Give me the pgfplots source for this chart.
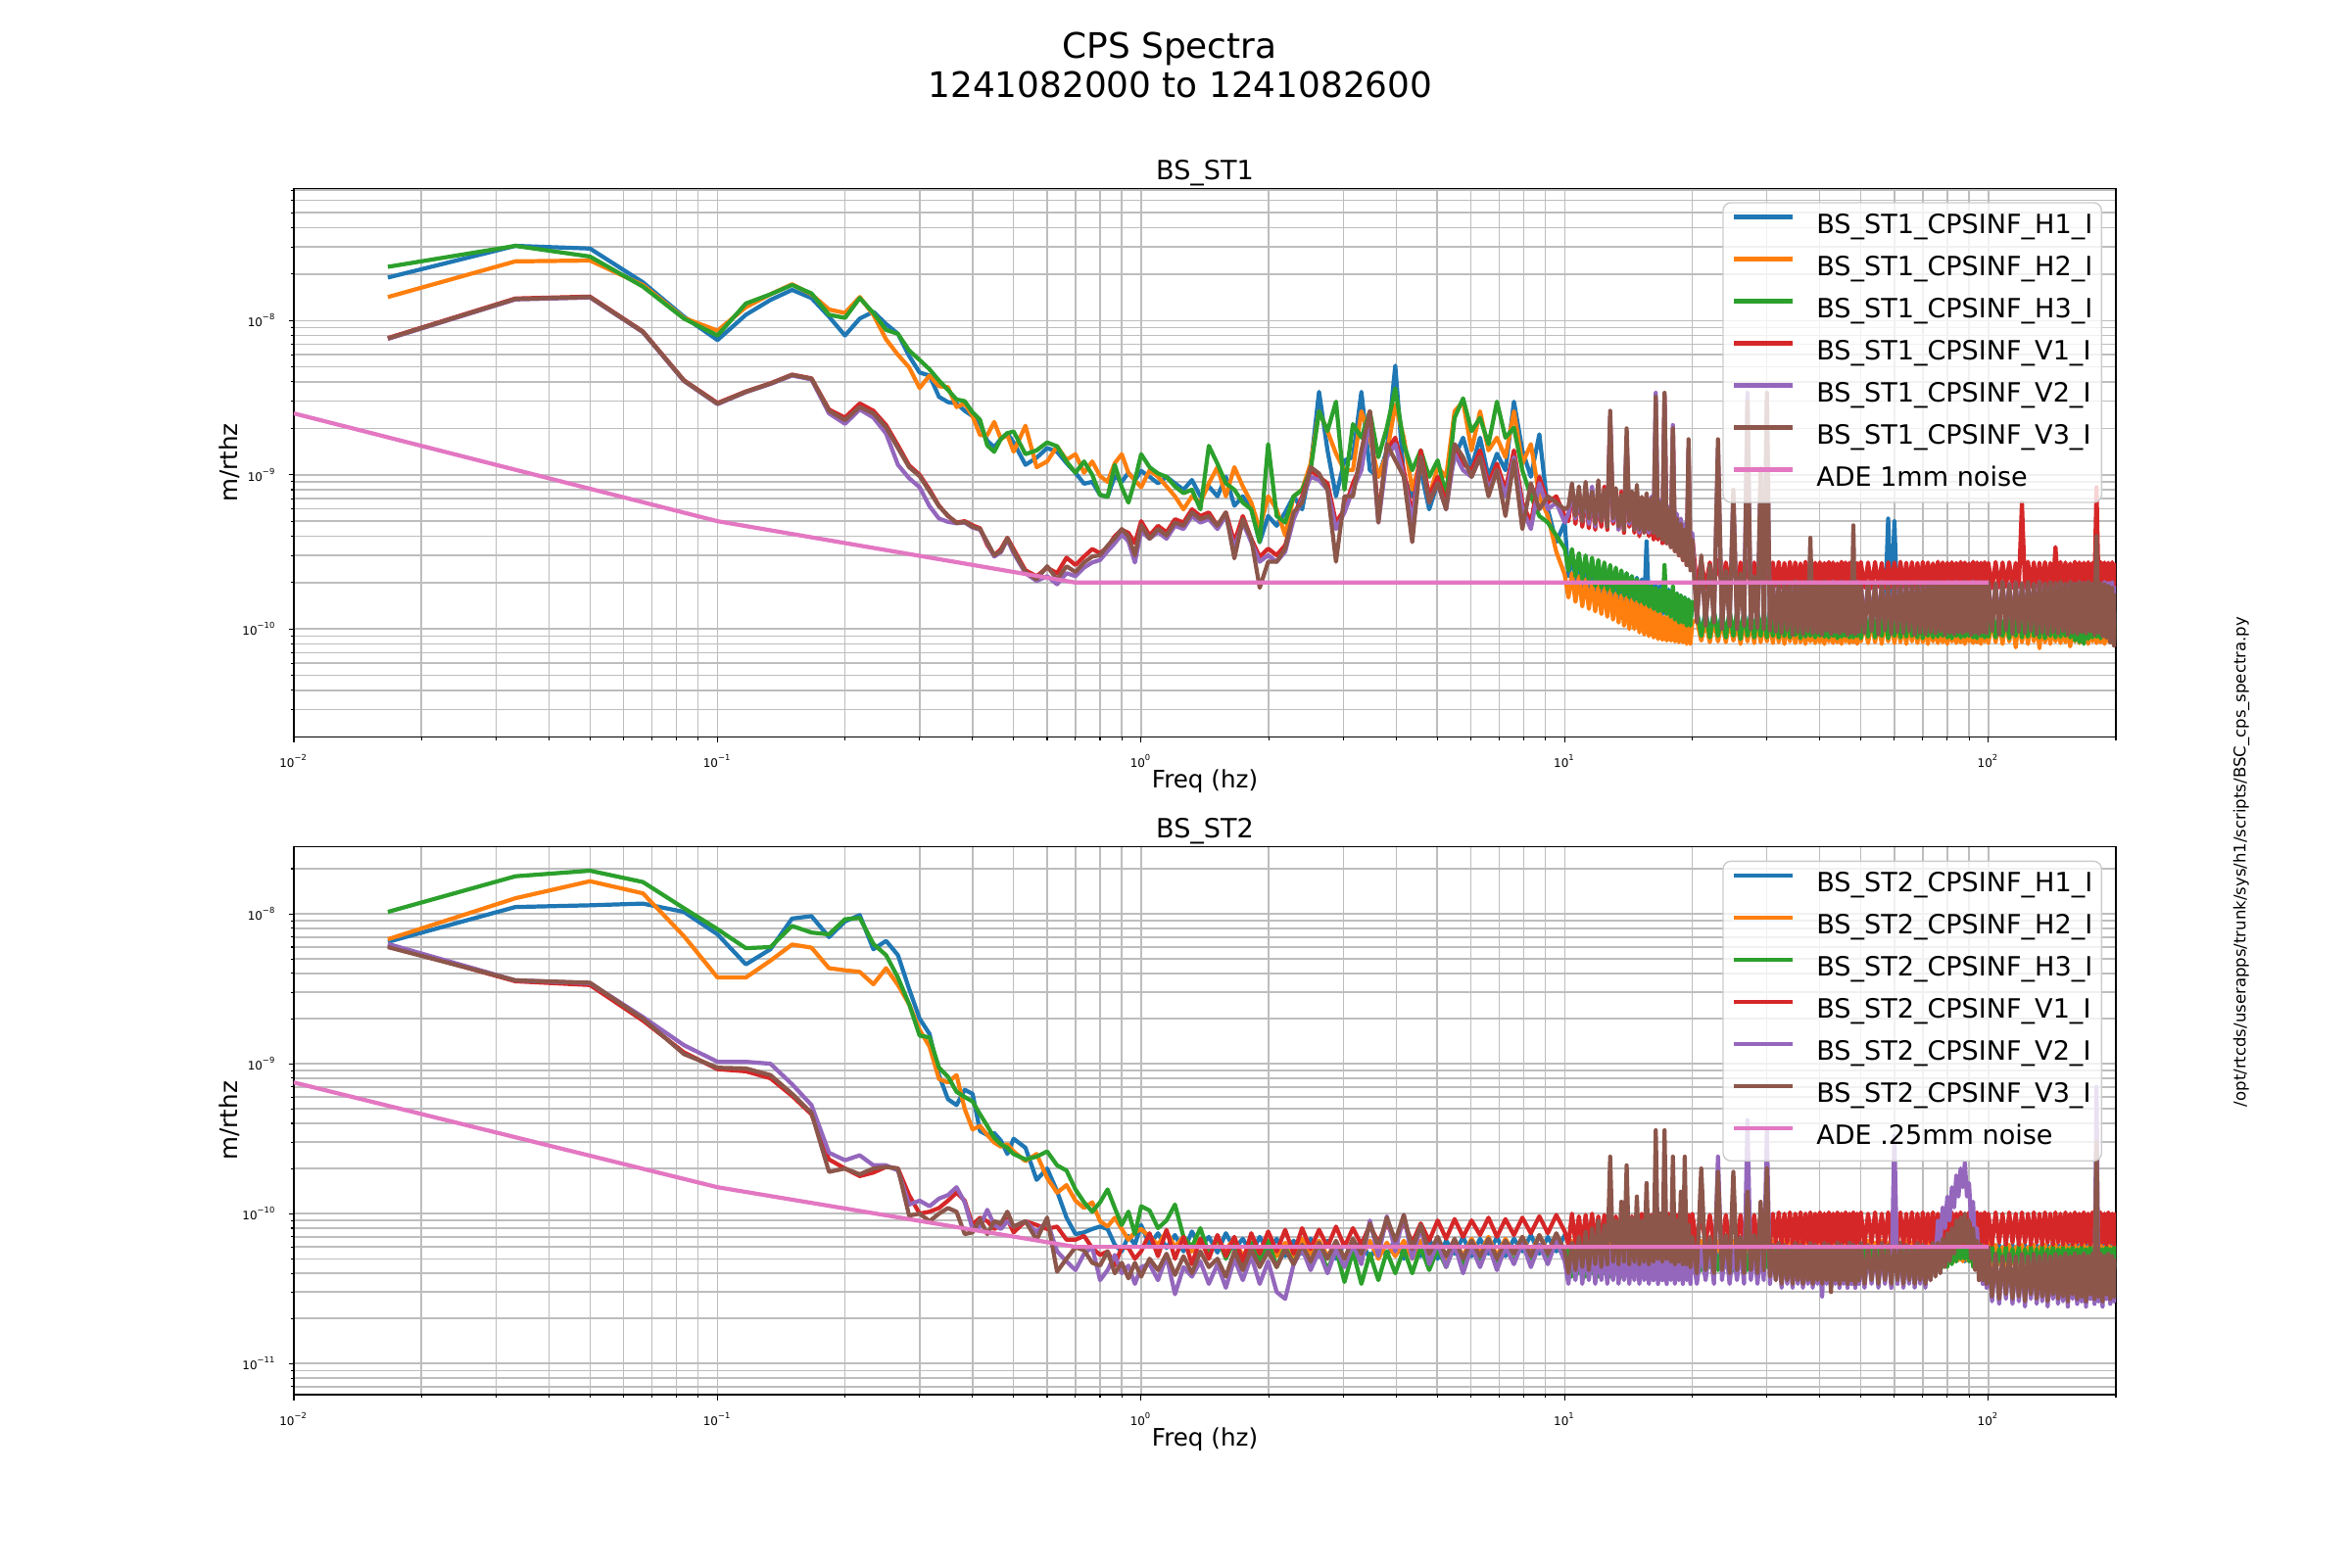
\documentclass[border=0pt]{standalone}
\usepackage{fontspec}
\setmainfont{DejaVu Sans}
\usepackage{pgfplots}
\usepackage{pgfplotstable}
\pgfplotsset{compat=1.18}
\definecolor{c0}{HTML}{1F77B4}
\definecolor{c1}{HTML}{FF7F0E}
\definecolor{c2}{HTML}{2CA02C}
\definecolor{c3}{HTML}{D62728}
\definecolor{c4}{HTML}{9467BD}
\definecolor{c5}{HTML}{8C564B}
\definecolor{c6}{HTML}{E377C2}

% ST1: f H1 H2 H3 V1 V2 V3
\pgfplotstableread{
f a b c d e g
0.01667 1.9e-8 1.42e-8 2.23e-8 7.7e-9 7.6e-9 7.65e-9
0.03333 3.05e-8 2.42e-8 3.05e-8 1.39e-8 1.37e-8 1.38e-8
0.05 2.93e-8 2.45e-8 2.6e-8 1.43e-8 1.41e-8 1.42e-8
0.06667 1.77e-8 1.7e-8 1.66e-8 8.5e-9 8.4e-9 8.45e-9
0.08333 1.06e-8 1.04e-8 1.03e-8 4.1e-9 4.05e-9 4.08e-9
0.1 7.47e-9 8.6e-9 8.0e-9 2.92e-9 2.87e-9 2.89e-9
0.11667 1.09e-8 1.22e-8 1.29e-8 3.47e-9 3.43e-9 3.45e-9
0.13333 1.36e-8 1.48e-8 1.48e-8 3.92e-9 3.88e-9 3.9e-9
0.15 1.58e-8 1.72e-8 1.7e-8 4.46e-9 4.4e-9 4.44e-9
0.16667 1.4e-8 1.48e-8 1.5e-8 4.22e-9 4.15e-9 4.2e-9
0.18333 1.06e-8 1.18e-8 1.09e-8 2.65e-9 2.5e-9 2.6e-9
0.2 8.0e-9 1.12e-8 1.04e-8 2.35e-9 2.14e-9 2.26e-9
0.21667 1.03e-8 1.42e-8 1.4e-8 2.9e-9 2.65e-9 2.75e-9
0.23333 1.14e-8 1.09e-8 1.12e-8 2.6e-9 2.35e-9 2.5e-9
0.25 9.5e-9 7.55e-9 8.7e-9 2.1e-9 1.85e-9 2.03e-9
0.26667 8.2e-9 6.0e-9 8.2e-9 1.55e-9 1.16e-9 1.49e-9
0.28333 5.9e-9 4.97e-9 6.4e-9 1.15e-9 9.5e-10 1.12e-9
0.3 4.6e-9 3.65e-9 5.55e-9 1.0e-9 8.3e-10 9.8e-10
0.31667 4.4e-9 4.4e-9 4.83e-9 8.0e-10 6.25e-10 7.8e-10
0.33333 3.2e-9 3.75e-9 4.08e-9 6.3e-10 5.2e-10 6.25e-10
0.35 2.96e-9 3.7e-9 3.55e-9 5.4e-10 4.95e-10 5.43e-10
0.36667 2.9e-9 2.75e-9 3.08e-9 4.9e-10 4.85e-10 4.86e-10
0.38333 2.6e-9 2.9e-9 3.0e-9 5.0e-10 4.9e-10 4.95e-10
0.4 2.4e-9 2.4e-9 2.54e-9 4.7e-10 4.55e-10 4.6e-10
0.41667 2.14e-9 1.81e-9 2.27e-9 4.5e-10 4.4e-10 4.45e-10
0.43333 1.66e-9 1.81e-9 1.55e-9 3.5e-10 3.6e-10 3.66e-10
0.45 1.51e-9 2.2e-9 1.41e-9 3.0e-10 2.95e-10 3.01e-10
0.46667 1.71e-9 1.71e-9 1.71e-9 3.3e-10 3.15e-10 3.2e-10
0.48333 1.86e-9 1.81e-9 1.86e-9 3.9e-10 3.8e-10 3.88e-10
0.5 1.62e-9 1.41e-9 1.91e-9 3.3e-10 3.1e-10 3.2e-10
0.53333 1.16e-9 2.08e-9 1.36e-9 2.4e-10 2.3e-10 2.34e-10
0.56667 1.29e-9 1.12e-9 1.44e-9 2.2e-10 2.05e-10 2.1e-10
0.6 1.49e-9 1.22e-9 1.62e-9 2.5e-10 2.2e-10 2.55e-10
0.63333 1.41e-9 1.53e-9 1.53e-9 2.3e-10 1.95e-10 2.1e-10
0.66667 1.19e-9 1.25e-9 1.22e-9 2.9e-10 2.3e-10 2.55e-10
0.7 1.03e-9 1.36e-9 1.03e-9 2.6e-10 2.2e-10 2.34e-10
0.73333 8.75e-10 1.03e-9 1.22e-9 2.95e-10 2.5e-10 2.7e-10
0.76667 9.0e-10 1.22e-9 1.0e-9 3.3e-10 2.7e-10 2.95e-10
0.8 7.4e-10 9.8e-10 7.4e-10 3.1e-10 2.8e-10 3.01e-10
0.83333 7.2e-10 9.0e-10 7.2e-10 3.4e-10 3.2e-10 3.47e-10
0.86667 9.8e-10 1.19e-9 1.16e-9 4.0e-10 3.6e-10 3.88e-10
0.9 9.0e-10 1.36e-9 8.3e-10 4.4e-10 4.1e-10 4.45e-10
0.93333 1.03e-9 1.03e-9 6.6e-10 4.2e-10 3.7e-10 3.98e-10
0.96667 9.2e-10 9.2e-10 9.2e-10 3.6e-10 2.7e-10 3.0e-10
1.0 1.06e-9 8.3e-10 1.36e-9 5.0e-10 4.3e-10 4.72e-10
1.047 9.7e-10 1.07e-9 1.12e-9 4.04e-10 3.85e-10 3.85e-10
1.096 8.8e-10 9.7e-10 1.02e-9 4.67e-10 4.24e-10 4.45e-10
1.148 9.7e-10 8.4e-10 9.7e-10 4.24e-10 3.85e-10 4.04e-10
1.202 8.8e-10 7.25e-10 8.4e-10 5.15e-10 4.67e-10 4.9e-10
1.259 8.0e-10 5.97e-10 7.6e-10 4.9e-10 4.45e-10 4.67e-10
1.318 9.25e-10 7.25e-10 8.0e-10 5.97e-10 5.4e-10 5.7e-10
1.380 7.25e-10 6.6e-10 5.97e-10 5.4e-10 4.9e-10 5.15e-10
1.445 8.4e-10 8.8e-10 1.54e-9 5.7e-10 5.15e-10 5.4e-10
1.514 7.25e-10 1.12e-9 1.18e-9 4.67e-10 4.45e-10 4.67e-10
1.585 9.7e-10 7.25e-10 8.8e-10 5.7e-10 5.4e-10 5.7e-10
1.660 6.3e-10 1.12e-9 8.0e-10 3.66e-10 3.32e-10 2.87e-10
1.738 7.25e-10 8.4e-10 6.6e-10 5.4e-10 4.9e-10 5.15e-10
1.820 5.97e-10 6.6e-10 5.97e-10 3.85e-10 3.66e-10 3.85e-10
1.905 3.66e-10 4.45e-10 3.66e-10 2.94e-10 2.73e-10 1.85e-10
1.995 5.4e-10 7.25e-10 1.58e-9 3.32e-10 3.01e-10 2.73e-10
2.089 4.67e-10 5.97e-10 5.4e-10 3.01e-10 2.73e-10 2.73e-10
2.188 5.7e-10 4.04e-10 4.9e-10 3.49e-10 3.17e-10 3.32e-10
2.291 7.25e-10 7.25e-10 7.25e-10 5.4e-10 5.15e-10 5.7e-10
2.399 5.97e-10 8.0e-10 8.0e-10 7.25e-10 6.9e-10 6.6e-10
2.512 1.12e-9 1.18e-9 1.07e-9 1.07e-9 9.7e-10 1.12e-9
2.630 3.45e-9 2.58e-9 2.58e-9 9.7e-10 9.25e-10 1.02e-9
2.754 1.44e-9 1.92e-9 1.92e-9 8.8e-10 8.0e-10 8.0e-10
2.884 7.25e-10 1.37e-9 2.98e-9 4.9e-10 4.45e-10 2.73e-10
3.020 1.24e-9 1.07e-9 8.0e-10 5.97e-10 5.7e-10 7.25e-10
3.162 1.3e-9 1.07e-9 2.13e-9 8.8e-10 8.0e-10 7.25e-10
3.311 3.45e-9 2.58e-9 1.74e-9 1.18e-9 1.07e-9 1.44e-9
3.467 1.07e-9 1.74e-9 2.58e-9 2.58e-9 2.34e-9 2.58e-9
3.631 9.7e-10 9.7e-10 1.3e-9 5.4e-10 4.9e-10 4.9e-10
3.802 1.44e-9 1.37e-9 2.02e-9 1.44e-9 1.3e-9 1.58e-9
3.981 5.1e-9 2.84e-9 3.62e-9 1.74e-9 1.58e-9 1.24e-9
4.169 9.7e-10 1.74e-9 1.58e-9 1.07e-9 9.7e-10 9.7e-10
4.365 7.25e-10 8.0e-10 1.07e-9 5.4e-10 4.9e-10 3.66e-10
4.571 1.07e-9 1.24e-9 1.44e-9 1.44e-9 1.3e-9 1.3e-9
4.786 5.97e-10 7.25e-10 9.7e-10 7.25e-10 6.6e-10 6.6e-10
5.012 8.8e-10 1.12e-9 1.24e-9 9.7e-10 8.8e-10 8.8e-10
5.248 7.25e-10 9.7e-10 7.25e-10 6.6e-10 5.97e-10 5.97e-10
5.495 1.3e-9 2.58e-9 2.34e-9 1.44e-9 1.37e-9 1.58e-9
5.754 1.74e-9 2.98e-9 3.13e-9 1.18e-9 1.07e-9 1.3e-9
6.026 1.12e-9 1.44e-9 1.92e-9 1.07e-9 9.7e-10 9.7e-10
6.310 1.74e-9 2.58e-9 2.34e-9 1.44e-9 1.3e-9 1.3e-9
6.607 9.7e-10 1.44e-9 1.58e-9 8.8e-10 8.0e-10 7.25e-10
6.918 1.37e-9 1.74e-9 2.98e-9 1.18e-9 1.07e-9 1.07e-9
7.244 1.07e-9 1.3e-9 1.74e-9 8.0e-10 7.25e-10 5.4e-10
7.586 2.98e-9 2.58e-9 2.02e-9 1.44e-9 1.3e-9 1.24e-9
7.943 1.44e-9 1.18e-9 1.07e-9 6.6e-10 5.97e-10 4.45e-10
8.318 9.7e-10 1.58e-9 7.25e-10 4.9e-10 4.45e-10 8.8e-10
8.710 1.83e-9 7.25e-10 5.4e-10 9.7e-10 8.8e-10 5.97e-10
9.120 5.97e-10 5.4e-10 4.9e-10 6.6e-10 5.97e-10 7.25e-10
9.550 3.66e-10 3.17e-10 4.04e-10 7.25e-10 6.6e-10 6.6e-10
10.0 4.9e-10 2.25e-10 3.32e-10 5.4e-10 4.9e-10 5.97e-10
10.2 2.2e-10 1.6e-10 2.4e-10 5.0e-10 5.6e-10 6.2e-10
10.4 3.1e-10 2.3e-10 3.3e-10 7.8e-10 8.2e-10 8.8e-10
10.6 2.0e-10 1.5e-10 2.2e-10 4.8e-10 5.2e-10 5.4e-10
10.8 3.0e-10 2.2e-10 3.1e-10 7.6e-10 7.2e-10 8.4e-10
11.0 1.9e-10 1.4e-10 2.1e-10 4.6e-10 5.0e-10 5.0e-10
11.2 2.9e-10 2.1e-10 3.0e-10 7.4e-10 8.0e-10 9.0e-10
11.4 1.8e-10 1.35e-10 2.0e-10 4.5e-10 4.8e-10 5.2e-10
11.6 2.8e-10 2.0e-10 2.9e-10 7.8e-10 8.4e-10 7.8e-10
11.8 1.75e-10 1.3e-10 1.9e-10 4.4e-10 4.6e-10 4.8e-10
12.0 2.7e-10 1.9e-10 2.8e-10 7.2e-10 7.6e-10 9.2e-10
12.2 1.7e-10 1.25e-10 1.85e-10 4.6e-10 5.0e-10 5.0e-10
12.4 2.6e-10 1.85e-10 2.7e-10 8.4e-10 7.8e-10 8.0e-10
12.6 1.65e-10 1.2e-10 1.8e-10 4.4e-10 4.6e-10 4.6e-10
12.8 2.5e-10 1.8e-10 2.6e-10 2.2e-9 2.4e-9 2.6e-9
13.0 1.6e-10 1.15e-10 1.75e-10 4.8e-10 5.0e-10 5.2e-10
13.2 2.4e-10 1.7e-10 2.5e-10 7.6e-10 8.0e-10 8.2e-10
13.4 1.55e-10 1.1e-10 1.7e-10 4.4e-10 4.4e-10 4.6e-10
13.6 2.35e-10 1.65e-10 2.4e-10 7.8e-10 7.0e-10 7.4e-10
13.8 1.5e-10 1.05e-10 1.65e-10 4.2e-10 4.6e-10 4.4e-10
14.0 2.3e-10 1.6e-10 2.3e-10 1.6e-9 1.8e-9 2.0e-9
14.2 1.5e-10 1.0e-10 1.6e-10 4.6e-10 4.8e-10 5.0e-10
14.4 2.2e-10 1.55e-10 2.2e-10 7.4e-10 7.2e-10 7.8e-10
14.6 1.45e-10 1.0e-10 1.55e-10 4.2e-10 4.4e-10 4.4e-10
14.8 2.15e-10 1.5e-10 2.1e-10 7.2e-10 7.6e-10 8.6e-10
15.0 1.4e-10 9.5e-11 1.5e-10 4.0e-10 4.2e-10 4.4e-10
15.2 2.1e-10 1.45e-10 2.0e-10 7.0e-10 7.0e-10 7.2e-10
15.4 1.4e-10 9.2e-11 1.45e-10 4.2e-10 4.4e-10 4.2e-10
15.6 3.7e-10 1.4e-10 1.95e-10 7.2e-10 6.8e-10 7.6e-10
15.8 1.35e-10 9.0e-11 1.4e-10 4.0e-10 4.2e-10 4.4e-10
16.0 2.0e-10 1.35e-10 1.9e-10 6.8e-10 7.2e-10 7.0e-10
16.2 1.3e-10 8.8e-11 1.35e-10 3.8e-10 4.4e-10 4.2e-10
16.4 1.95e-10 1.3e-10 1.85e-10 6.8e-10 3.4e-9 3.2e-9
16.6 1.3e-10 8.6e-11 1.3e-10 3.8e-10 4.2e-10 4.0e-10
16.8 1.9e-10 1.25e-10 1.8e-10 6.6e-10 6.8e-10 6.6e-10
17.0 1.25e-10 8.5e-11 1.3e-10 3.6e-10 4.0e-10 3.8e-10
17.2 1.85e-10 1.2e-10 2.6e-10 3.2e-9 3.3e-9 3.4e-9
17.4 1.25e-10 8.4e-11 1.25e-10 3.6e-10 3.8e-10 3.6e-10
17.6 1.8e-10 1.2e-10 1.75e-10 6.0e-10 6.2e-10 6.0e-10
17.8 1.2e-10 8.4e-11 1.2e-10 3.4e-10 3.6e-10 3.4e-10
18.0 1.75e-10 1.15e-10 1.9e-10 2.0e-9 2.1e-9 2.0e-9
18.2 1.2e-10 8.3e-11 1.15e-10 3.2e-10 3.4e-10 3.2e-10
18.4 1.7e-10 1.15e-10 1.7e-10 5.4e-10 5.6e-10 5.2e-10
18.6 1.15e-10 8.2e-11 1.1e-10 3.0e-10 3.2e-10 3.0e-10
18.8 1.65e-10 1.15e-10 1.65e-10 5.0e-10 5.2e-10 4.8e-10
19.0 1.15e-10 8.2e-11 1.1e-10 2.8e-10 3.0e-10 2.8e-10
19.2 1.6e-10 1.1e-10 1.6e-10 4.6e-10 4.8e-10 4.4e-10
19.4 1.1e-10 8.0e-11 1.05e-10 2.6e-10 2.8e-10 2.6e-10
19.6 1.55e-10 1.1e-10 1.55e-10 1.4e-9 1.5e-9 1.7e-9
19.8 1.1e-10 8.0e-11 1.05e-10 2.5e-10 2.6e-10 2.4e-10
20.0 1.5e-10 1.1e-10 1.5e-10 4.0e-10 4.2e-10 3.8e-10
20.5 1.3e-10 1.15e-10 1.3e-10 1.9e-10 1.2e-10 1.1e-10
21.0 9.2e-11 8.4e-11 9.0e-11 2.8e-10 2.6e-10 3.0e-10
21.5 1.32e-10 1.12e-10 1.28e-10 1.85e-10 1.15e-10 1.05e-10
22.0 9.0e-11 8.2e-11 8.8e-11 2.7e-10 2.4e-10 2.6e-10
22.5 1.3e-10 1.15e-10 1.3e-10 1.9e-10 1.2e-10 1.1e-10
23.0 9.2e-11 8.3e-11 9.0e-11 2.8e-10 1.5e-9 1.7e-9
23.5 1.28e-10 1.12e-10 1.26e-10 1.85e-10 1.1e-10 1.0e-10
24.0 8.8e-11 8.2e-11 8.8e-11 2.7e-10 2.3e-10 2.4e-10
24.5 1.3e-10 1.14e-10 1.3e-10 1.9e-10 1.15e-10 1.05e-10
25.0 9.0e-11 8.4e-11 9.0e-11 2.75e-10 7.5e-10 8.0e-10
25.5 1.26e-10 1.1e-10 1.28e-10 1.85e-10 1.1e-10 1.0e-10
26.0 8.8e-11 8.0e-11 8.6e-11 2.7e-10 2.2e-10 2.3e-10
26.5 1.3e-10 1.13e-10 1.3e-10 1.9e-10 1.15e-10 1.05e-10
27.0 9.0e-11 8.3e-11 9.0e-11 2.75e-10 3.4e-9 3.0e-9
27.5 1.28e-10 1.12e-10 1.26e-10 1.85e-10 1.1e-10 1.0e-10
28.0 8.8e-11 8.1e-11 8.8e-11 2.7e-10 2.1e-10 2.2e-10
28.5 1.3e-10 1.15e-10 1.28e-10 1.9e-10 1.12e-10 1.02e-10
29.0 9.0e-11 8.2e-11 9.0e-11 2.7e-10 1.0e-9 1.1e-9
29.5 1.26e-10 1.1e-10 1.3e-10 1.85e-10 1.1e-10 1.0e-10
30.0 8.8e-11 8.3e-11 8.8e-11 2.75e-10 3.0e-9 3.4e-9
30.5 1.3e-10 1.13e-10 1.26e-10 1.85e-10 1.08e-10 9.8e-11
31.0 9.0e-11 8.1e-11 9.0e-11 2.7e-10 2.0e-10 2.0e-10
31.5 1.28e-10 1.15e-10 1.3e-10 1.9e-10 1.1e-10 9.6e-11
32.0 8.8e-11 8.2e-11 8.8e-11 2.72e-10 1.95e-10 2.0e-10
32.5 1.3e-10 1.12e-10 1.28e-10 1.86e-10 1.06e-10 9.4e-11
33.0 9.0e-11 8.0e-11 9.0e-11 2.68e-10 2.0e-10 2.02e-10
33.5 1.27e-10 1.14e-10 1.3e-10 1.84e-10 1.1e-10 9.8e-11
34.0 8.7e-11 8.3e-11 8.8e-11 2.72e-10 1.96e-10 1.98e-10
34.5 1.31e-10 1.11e-10 1.27e-10 1.88e-10 1.07e-10 9.2e-11
35.0 8.9e-11 8.1e-11 9.1e-11 2.7e-10 2.02e-10 2.04e-10
35.5 1.28e-10 1.15e-10 1.29e-10 1.85e-10 1.09e-10 9.6e-11
36.0 8.8e-11 8.2e-11 8.7e-11 2.66e-10 1.97e-10 1.96e-10
36.5 1.3e-10 1.12e-10 1.3e-10 1.87e-10 1.05e-10 9.3e-11
37.0 9.0e-11 8.0e-11 8.9e-11 2.73e-10 2.0e-10 2.01e-10
37.5 1.26e-10 1.14e-10 1.26e-10 1.84e-10 1.1e-10 9.7e-11
38.0 8.8e-11 8.3e-11 9.0e-11 2.7e-10 1.98e-10 3.9e-10
38.5 1.3e-10 1.11e-10 1.28e-10 1.86e-10 1.06e-10 9.4e-11
39.0 8.9e-11 8.1e-11 8.8e-11 2.69e-10 2.01e-10 2.0e-10
39.5 1.28e-10 1.15e-10 1.3e-10 1.88e-10 1.08e-10 9.5e-11
40.0 8.7e-11 8.2e-11 9.0e-11 2.71e-10 1.96e-10 1.97e-10
40.5 1.31e-10 1.12e-10 1.27e-10 1.85e-10 1.07e-10 9.2e-11
41.0 9.0e-11 8.0e-11 8.9e-11 2.68e-10 2.0e-10 2.03e-10
41.5 1.27e-10 1.14e-10 1.29e-10 1.87e-10 1.1e-10 9.8e-11
42.0 8.8e-11 8.3e-11 8.8e-11 2.72e-10 1.97e-10 1.95e-10
42.5 1.3e-10 1.11e-10 1.3e-10 1.84e-10 1.05e-10 9.3e-11
43.0 8.9e-11 8.1e-11 9.0e-11 2.7e-10 2.02e-10 2.0e-10
43.5 1.28e-10 1.15e-10 1.26e-10 1.88e-10 1.09e-10 9.6e-11
44.0 8.7e-11 8.2e-11 8.7e-11 2.66e-10 1.98e-10 1.98e-10
44.5 1.3e-10 1.12e-10 1.28e-10 1.86e-10 1.06e-10 9.4e-11
45.0 9.0e-11 8.0e-11 8.9e-11 2.73e-10 2.01e-10 2.02e-10
45.5 1.27e-10 1.14e-10 1.3e-10 1.85e-10 1.08e-10 9.7e-11
46.0 8.8e-11 8.3e-11 9.0e-11 2.7e-10 1.96e-10 1.96e-10
46.5 1.31e-10 1.11e-10 1.27e-10 1.87e-10 1.07e-10 9.2e-11
47.0 8.9e-11 8.1e-11 8.8e-11 2.69e-10 2.0e-10 2.01e-10
47.5 1.28e-10 1.15e-10 1.29e-10 1.84e-10 1.1e-10 9.5e-11
48.0 8.7e-11 8.2e-11 8.8e-11 2.71e-10 1.97e-10 4.7e-10
48.5 1.3e-10 1.12e-10 1.3e-10 1.88e-10 1.05e-10 9.3e-11
49.0 9.0e-11 8.0e-11 9.0e-11 2.68e-10 2.02e-10 2.0e-10
49.5 1.26e-10 1.14e-10 1.26e-10 1.86e-10 1.09e-10 9.6e-11
50.0 8.8e-11 8.3e-11 8.7e-11 2.72e-10 1.98e-10 1.97e-10
51 1.3e-10 1.12e-10 1.28e-10 1.86e-10 1.07e-10 9.4e-11
52 8.9e-11 8.1e-11 8.9e-11 2.7e-10 2.0e-10 2.01e-10
53 1.28e-10 1.14e-10 1.3e-10 1.84e-10 1.09e-10 9.7e-11
54 8.7e-11 8.2e-11 8.8e-11 2.72e-10 1.96e-10 1.97e-10
55 1.31e-10 1.11e-10 1.27e-10 1.88e-10 1.06e-10 9.2e-11
56 9.0e-11 8.0e-11 9.0e-11 2.68e-10 2.02e-10 2.03e-10
57 1.27e-10 1.15e-10 1.29e-10 1.85e-10 1.1e-10 9.8e-11
58 5.2e-10 8.3e-11 8.7e-11 2.71e-10 1.97e-10 1.95e-10
59 1.3e-10 1.12e-10 1.3e-10 1.87e-10 1.05e-10 9.3e-11
60 5.0e-10 8.1e-11 9.0e-11 2.7e-10 2.01e-10 2.0e-10
61 1.28e-10 1.14e-10 1.26e-10 1.84e-10 1.08e-10 9.6e-11
62 8.8e-11 8.2e-11 8.8e-11 2.73e-10 1.98e-10 1.98e-10
63 1.3e-10 1.11e-10 1.28e-10 1.86e-10 1.07e-10 9.4e-11
64 8.9e-11 8.0e-11 8.9e-11 2.69e-10 2.0e-10 2.02e-10
65 1.27e-10 1.15e-10 1.3e-10 1.88e-10 1.09e-10 9.7e-11
66 8.7e-11 8.3e-11 9.0e-11 2.71e-10 1.96e-10 1.96e-10
67 1.31e-10 1.12e-10 1.27e-10 1.85e-10 1.06e-10 9.2e-11
68 9.0e-11 8.1e-11 8.8e-11 2.68e-10 2.02e-10 2.01e-10
69 1.28e-10 1.14e-10 1.29e-10 1.87e-10 1.1e-10 9.5e-11
70 8.8e-11 8.2e-11 8.7e-11 2.72e-10 1.97e-10 1.97e-10
71 1.3e-10 1.11e-10 1.3e-10 1.84e-10 1.05e-10 9.3e-11
72 8.9e-11 8.0e-11 9.0e-11 2.7e-10 2.01e-10 2.0e-10
73 1.26e-10 1.15e-10 1.26e-10 1.88e-10 1.08e-10 9.6e-11
74 8.7e-11 8.3e-11 8.8e-11 2.66e-10 1.98e-10 1.98e-10
75 1.3e-10 1.12e-10 1.28e-10 1.86e-10 1.07e-10 9.4e-11
76 9.0e-11 8.1e-11 8.9e-11 2.73e-10 2.0e-10 2.02e-10
77 1.28e-10 1.14e-10 1.3e-10 1.85e-10 1.09e-10 9.7e-11
78 8.8e-11 8.2e-11 9.0e-11 2.7e-10 1.96e-10 1.96e-10
79 1.31e-10 1.11e-10 1.27e-10 1.87e-10 1.06e-10 9.2e-11
80 8.9e-11 8.0e-11 8.8e-11 2.69e-10 2.02e-10 2.01e-10
81 1.27e-10 1.15e-10 1.29e-10 1.84e-10 1.1e-10 9.5e-11
82 8.7e-11 8.3e-11 8.7e-11 2.71e-10 1.97e-10 1.97e-10
83 1.3e-10 1.12e-10 1.3e-10 1.88e-10 1.05e-10 9.3e-11
84 9.0e-11 8.1e-11 9.0e-11 2.68e-10 2.01e-10 2.0e-10
85 1.28e-10 1.14e-10 1.26e-10 1.86e-10 1.08e-10 9.6e-11
86 8.8e-11 8.2e-11 8.8e-11 2.72e-10 1.98e-10 1.98e-10
87 1.3e-10 1.11e-10 1.28e-10 1.85e-10 1.07e-10 9.4e-11
88 8.9e-11 8.0e-11 8.9e-11 2.7e-10 2.0e-10 2.02e-10
89 1.26e-10 1.15e-10 1.3e-10 1.87e-10 1.09e-10 9.7e-11
90 8.7e-11 8.3e-11 9.0e-11 2.66e-10 1.96e-10 1.96e-10
91 1.3e-10 1.12e-10 1.27e-10 1.84e-10 1.06e-10 9.2e-11
92 9.0e-11 8.1e-11 8.8e-11 2.73e-10 2.02e-10 2.01e-10
93 1.28e-10 1.14e-10 1.29e-10 1.88e-10 1.1e-10 9.5e-11
94 8.8e-11 8.2e-11 8.7e-11 2.7e-10 1.97e-10 1.97e-10
95 1.31e-10 1.11e-10 1.3e-10 1.86e-10 1.05e-10 9.3e-11
96 8.9e-11 8.0e-11 9.0e-11 2.69e-10 2.01e-10 2.0e-10
97 1.27e-10 1.15e-10 1.26e-10 1.85e-10 1.08e-10 9.6e-11
98 8.7e-11 8.3e-11 8.8e-11 2.71e-10 1.98e-10 1.98e-10
99 1.3e-10 1.12e-10 1.28e-10 1.87e-10 1.07e-10 9.4e-11
100 9.0e-11 8.1e-11 8.9e-11 2.68e-10 2.0e-10 2.02e-10
102 1.28e-10 1.14e-10 1.3e-10 1.84e-10 1.09e-10 9.7e-11
104 8.8e-11 8.2e-11 8.8e-11 2.72e-10 1.96e-10 1.98e-10
106 1.3e-10 1.11e-10 1.27e-10 1.86e-10 1.06e-10 9.2e-11
108 8.9e-11 8.0e-11 9.0e-11 2.7e-10 2.02e-10 2.03e-10
110 1.27e-10 1.15e-10 1.29e-10 1.88e-10 1.1e-10 9.8e-11
112 8.7e-11 8.3e-11 8.7e-11 2.71e-10 1.97e-10 1.95e-10
114 1.31e-10 1.12e-10 1.3e-10 1.85e-10 1.05e-10 9.3e-11
116 9.0e-11 7.6e-11 9.0e-11 2.68e-10 2.01e-10 2.0e-10
118 1.28e-10 1.14e-10 1.26e-10 1.87e-10 1.08e-10 9.6e-11
120 8.8e-11 8.2e-11 8.8e-11 6.6e-10 1.98e-10 1.98e-10
122 1.3e-10 1.11e-10 1.28e-10 1.84e-10 1.07e-10 9.4e-11
124 8.9e-11 8.0e-11 8.9e-11 2.73e-10 2.0e-10 2.02e-10
126 1.26e-10 1.15e-10 1.3e-10 1.88e-10 1.09e-10 9.7e-11
128 8.7e-11 8.3e-11 9.0e-11 2.7e-10 1.96e-10 1.96e-10
130 1.3e-10 1.12e-10 1.27e-10 1.86e-10 1.06e-10 9.2e-11
132 9.0e-11 7.5e-11 8.8e-11 2.69e-10 2.02e-10 2.01e-10
134 1.28e-10 1.14e-10 1.29e-10 1.85e-10 1.1e-10 9.5e-11
136 8.8e-11 8.2e-11 8.7e-11 2.71e-10 1.97e-10 1.97e-10
138 1.31e-10 1.11e-10 1.3e-10 1.87e-10 1.05e-10 9.3e-11
140 8.9e-11 8.0e-11 9.0e-11 2.68e-10 2.01e-10 2.0e-10
142 1.27e-10 1.15e-10 1.26e-10 1.84e-10 1.08e-10 9.6e-11
144 8.7e-11 8.3e-11 8.8e-11 3.4e-10 1.98e-10 1.98e-10
146 1.3e-10 1.12e-10 1.28e-10 1.88e-10 1.07e-10 9.4e-11
148 9.0e-11 8.1e-11 8.9e-11 2.72e-10 2.0e-10 2.02e-10
150 1.28e-10 1.14e-10 1.3e-10 1.86e-10 1.09e-10 9.7e-11
152 8.8e-11 8.2e-11 9.0e-11 2.7e-10 1.96e-10 1.96e-10
154 1.3e-10 1.11e-10 1.27e-10 1.85e-10 1.06e-10 9.2e-11
156 8.9e-11 7.7e-11 8.8e-11 2.66e-10 2.02e-10 2.01e-10
158 1.26e-10 1.15e-10 1.29e-10 1.87e-10 1.1e-10 9.5e-11
160 8.7e-11 8.3e-11 8.4e-11 2.73e-10 1.97e-10 1.97e-10
162 1.3e-10 1.12e-10 1.3e-10 1.84e-10 1.05e-10 9.3e-11
164 9.0e-11 8.1e-11 8.2e-11 2.7e-10 2.01e-10 2.0e-10
166 1.28e-10 1.14e-10 1.26e-10 1.88e-10 1.08e-10 9.6e-11
168 8.8e-11 8.2e-11 8.0e-11 2.69e-10 1.98e-10 1.98e-10
170 1.31e-10 1.11e-10 1.28e-10 1.86e-10 1.07e-10 9.4e-11
172 8.9e-11 8.0e-11 8.6e-11 2.71e-10 2.0e-10 2.02e-10
174 1.27e-10 1.15e-10 1.3e-10 1.85e-10 1.09e-10 9.7e-11
176 8.7e-11 8.3e-11 8.8e-11 2.68e-10 1.96e-10 1.96e-10
178 1.3e-10 1.12e-10 1.27e-10 1.87e-10 1.06e-10 9.2e-11
180 9.0e-11 8.1e-11 8.9e-11 8.3e-10 2.6e-10 4.0e-10
182 1.28e-10 1.14e-10 1.29e-10 1.84e-10 1.1e-10 9.5e-11
184 8.8e-11 8.2e-11 8.7e-11 2.72e-10 1.97e-10 1.97e-10
186 1.3e-10 1.11e-10 1.3e-10 1.88e-10 1.05e-10 9.0e-11
188 8.9e-11 8.0e-11 9.0e-11 2.7e-10 2.01e-10 1.95e-10
190 1.26e-10 1.15e-10 1.26e-10 1.86e-10 1.08e-10 8.8e-11
192 8.7e-11 8.3e-11 8.8e-11 2.69e-10 1.98e-10 1.9e-10
194 1.3e-10 1.12e-10 1.28e-10 1.85e-10 1.07e-10 8.2e-11
196 9.0e-11 8.1e-11 8.9e-11 2.71e-10 2.0e-10 1.85e-10
198 1.28e-10 1.14e-10 1.3e-10 1.87e-10 1.06e-10 7.8e-11
200 8.8e-11 8.2e-11 8.5e-11 2.68e-10 1.9e-10 1.7e-10
}\stA

% ST2: f H1 H2 H3 V1 V2 V3
\pgfplotstableread{
f a b c d e g
0.01667 6.5e-9 6.76e-9 1.03e-8 6.13e-9 6.3e-9 6.0e-9
0.03333 1.11e-8 1.27e-8 1.78e-8 3.55e-9 3.6e-9 3.6e-9
0.05 1.14e-8 1.65e-8 1.94e-8 3.35e-9 3.45e-9 3.47e-9
0.06667 1.17e-8 1.37e-8 1.63e-8 1.94e-9 2.05e-9 2.0e-9
0.08333 1.03e-8 7.1e-9 1.09e-8 1.19e-9 1.33e-9 1.16e-9
0.1 7.3e-9 3.76e-9 7.9e-9 9.2e-10 1.03e-9 9.4e-10
0.11667 4.6e-9 3.76e-9 5.9e-9 8.9e-10 1.03e-9 9.3e-10
0.13333 5.8e-9 4.87e-9 6.0e-9 8.0e-10 1.0e-9 8.4e-10
0.15 9.3e-9 6.24e-9 8.3e-9 6.1e-10 7.3e-10 6.3e-10
0.16667 9.65e-9 5.95e-9 7.5e-9 4.6e-10 5.3e-10 4.7e-10
0.18333 7.0e-9 4.34e-9 7.3e-9 2.3e-10 2.55e-10 1.9e-10
0.2 8.9e-9 4.2e-9 9.2e-9 2.0e-10 2.27e-10 2.0e-10
0.21667 9.8e-9 4.1e-9 9.4e-9 1.78e-10 2.45e-10 1.83e-10
0.23333 5.8e-9 3.39e-9 6.3e-9 1.88e-10 2.1e-10 2.0e-10
0.25 6.6e-9 4.34e-9 5.3e-9 2.05e-10 2.1e-10 2.05e-10
0.26667 5.3e-9 3.35e-9 3.76e-9 2.0e-10 1.94e-10 2.0e-10
0.28333 3.16e-9 2.5e-9 2.5e-9 1.33e-10 1.15e-10 9.7e-11
0.3 2.0e-9 1.68e-9 1.54e-9 1.0e-10 1.22e-10 1.0e-10
0.31667 1.58e-9 1.3e-9 1.5e-9 1.03e-10 1.12e-10 8.9e-11
0.33333 8.4e-10 7.9e-10 9.4e-10 1.09e-10 1.26e-10 1.0e-10
0.35 5.8e-10 7.5e-10 8.2e-10 1.22e-10 1.33e-10 1.09e-10
0.36667 5.3e-10 8.4e-10 6.5e-10 1.38e-10 1.5e-10 1.03e-10
0.38333 6.7e-10 5.0e-10 6.0e-10 1.22e-10 1.19e-10 7.3e-11
0.4 6.3e-10 3.65e-10 5.6e-10 8.4e-11 7.9e-11 7.5e-11
0.41667 3.55e-10 3.85e-10 4.6e-10 9.4e-11 8.2e-11 9.2e-11
0.43333 3.35e-10 3.35e-10 3.85e-10 8.9e-11 1.06e-10 7.3e-11
0.45 3.45e-10 2.98e-10 3.2e-10 7.9e-11 8.4e-11 8.9e-11
0.46667 3.07e-10 2.8e-10 2.9e-10 8.4e-11 7.9e-11 8.6e-11
0.48333 2.5e-10 2.9e-10 2.75e-10 9.2e-11 8.9e-11 1.03e-10
0.5 3.16e-10 2.6e-10 2.5e-10 7.5e-11 8.2e-11 8.2e-11
0.53333 2.75e-10 2.24e-10 2.3e-10 8.9e-11 8.9e-11 8.9e-11
0.56667 1.68e-10 2.5e-10 2.4e-10 8.4e-11 7.5e-11 6.7e-11
0.6 2.0e-10 1.73e-10 2.6e-10 7.9e-11 8.9e-11 9.4e-11
0.63333 1.41e-10 1.38e-10 2.1e-10 8.2e-11 5.6e-11 4.1e-11
0.66667 9.4e-11 1.55e-10 1.94e-10 6.7e-11 4.8e-11 5.0e-11
0.7 7.3e-11 1.22e-10 1.45e-10 6.7e-11 4.2e-11 5.96e-11
0.73333 7.5e-11 1.09e-10 1.19e-10 7.1e-11 5.4e-11 5.7e-11
0.76667 7.9e-11 1.19e-10 1.03e-10 5.9e-11 5.96e-11 4.7e-11
0.8 8.2e-11 8.9e-11 1.19e-10 5.3e-11 3.6e-11 4.5e-11
0.83333 7.9e-11 8.2e-11 1.45e-10 5.6e-11 4.2e-11 5.6e-11
0.86667 6.2e-11 9.4e-11 1.09e-10 4.5e-11 5.3e-11 4.0e-11
0.9 5.6e-11 7.9e-11 8.4e-11 6.0e-11 4.0e-11 4.7e-11
0.93333 7.1e-11 6.7e-11 1.03e-10 5.9e-11 4.5e-11 3.7e-11
0.96667 6.2e-11 7.5e-11 7.3e-11 5.0e-11 3.4e-11 4.7e-11
1.0 8.4e-11 7.9e-11 1.12e-10 5.6e-11 4.4e-11 3.8e-11
1.047 6.2e-11 7.0e-11 1.05e-10 7.4e-11 4.6e-11 5.0e-11
1.096 7.4e-11 6.2e-11 8.0e-11 5.2e-11 3.6e-11 4.2e-11
1.148 5.9e-11 7.6e-11 9.0e-11 7.8e-11 5.2e-11 5.4e-11
1.202 7.2e-11 6.0e-11 1.15e-10 5.0e-11 2.9e-11 3.9e-11
1.259 5.6e-11 7.0e-11 7.0e-11 7.0e-11 4.4e-11 5.2e-11
1.318 7.6e-11 5.6e-11 6.0e-11 4.6e-11 3.8e-11 4.0e-11
1.380 6.0e-11 6.8e-11 8.0e-11 6.8e-11 4.8e-11 5.6e-11
1.445 7.0e-11 5.4e-11 5.4e-11 5.0e-11 3.4e-11 4.4e-11
1.514 5.5e-11 6.6e-11 7.0e-11 7.2e-11 4.6e-11 5.0e-11
1.585 7.4e-11 5.8e-11 5.0e-11 5.2e-11 3.2e-11 3.8e-11
1.660 5.8e-11 6.8e-11 6.6e-11 7.0e-11 5.0e-11 5.6e-11
1.738 6.8e-11 5.2e-11 4.6e-11 4.8e-11 3.6e-11 4.2e-11
1.820 5.4e-11 6.4e-11 6.4e-11 7.4e-11 5.2e-11 5.8e-11
1.905 7.0e-11 5.6e-11 4.8e-11 5.4e-11 3.4e-11 4.4e-11
1.995 5.6e-11 6.6e-11 6.6e-11 7.6e-11 4.8e-11 5.6e-11
2.089 6.8e-11 5.2e-11 4.4e-11 5.6e-11 3.0e-11 4.4e-11
2.188 5.2e-11 6.4e-11 6.0e-11 7.8e-11 2.7e-11 5.8e-11
2.291 6.6e-11 5.0e-11 4.6e-11 5.4e-11 4.6e-11 4.6e-11
2.399 5.4e-11 6.8e-11 6.2e-11 8.0e-11 5.8e-11 6.2e-11
2.512 6.8e-11 5.4e-11 4.4e-11 5.8e-11 4.2e-11 4.8e-11
2.630 5.2e-11 6.6e-11 6.0e-11 7.8e-11 5.6e-11 6.4e-11
2.754 6.6e-11 5.2e-11 4.2e-11 6.0e-11 4.0e-11 5.0e-11
2.884 5.0e-11 6.4e-11 5.8e-11 8.2e-11 5.8e-11 6.6e-11
3.020 6.4e-11 5.0e-11 3.5e-11 6.0e-11 4.4e-11 5.0e-11
3.162 5.2e-11 6.2e-11 5.6e-11 8.0e-11 6.2e-11 6.8e-11
3.311 6.6e-11 5.2e-11 3.4e-11 6.2e-11 4.6e-11 5.4e-11
3.467 5.0e-11 6.6e-11 5.4e-11 8.4e-11 9.0e-11 8.6e-11
3.631 6.4e-11 5.0e-11 3.6e-11 6.4e-11 5.2e-11 6.0e-11
3.802 5.2e-11 6.4e-11 5.6e-11 8.6e-11 9.6e-11 9.4e-11
3.981 6.8e-11 5.2e-11 4.0e-11 6.6e-11 5.6e-11 6.6e-11
4.169 5.0e-11 6.6e-11 5.8e-11 8.8e-11 9.8e-11 9.8e-11
4.365 6.6e-11 5.0e-11 4.0e-11 6.4e-11 5.0e-11 5.8e-11
4.571 5.2e-11 6.6e-11 6.0e-11 8.6e-11 8.2e-11 8.4e-11
4.786 6.8e-11 5.2e-11 4.2e-11 6.6e-11 4.6e-11 5.4e-11
5.012 5.0e-11 6.8e-11 5.8e-11 9.0e-11 6.4e-11 7.0e-11
5.248 6.6e-11 5.0e-11 4.4e-11 6.8e-11 4.4e-11 5.2e-11
5.495 5.4e-11 6.6e-11 6.2e-11 9.2e-11 6.2e-11 6.8e-11
5.754 7.0e-11 5.2e-11 4.6e-11 7.0e-11 4.0e-11 5.0e-11
6.026 5.2e-11 6.8e-11 6.0e-11 9.0e-11 6.0e-11 6.6e-11
6.310 6.8e-11 5.4e-11 4.8e-11 7.2e-11 4.4e-11 5.2e-11
6.607 5.4e-11 7.0e-11 6.2e-11 9.4e-11 6.2e-11 6.8e-11
6.918 7.0e-11 5.2e-11 4.6e-11 7.0e-11 4.2e-11 5.0e-11
7.244 5.2e-11 6.8e-11 6.0e-11 9.2e-11 6.0e-11 6.6e-11
7.586 6.8e-11 5.4e-11 4.8e-11 7.2e-11 4.6e-11 5.4e-11
7.943 5.6e-11 7.0e-11 6.4e-11 9.4e-11 6.4e-11 7.0e-11
8.318 7.2e-11 5.4e-11 4.8e-11 7.4e-11 4.4e-11 5.2e-11
8.710 5.4e-11 7.2e-11 6.2e-11 9.6e-11 6.2e-11 7.2e-11
9.120 7.0e-11 5.6e-11 5.0e-11 7.4e-11 4.6e-11 5.4e-11
9.550 5.6e-11 7.0e-11 6.4e-11 9.8e-11 6.6e-11 7.4e-11
10.0 7.2e-11 5.4e-11 5.0e-11 7.6e-11 4.8e-11 5.6e-11
10.2 6.8e-11 4.8e-11 5.8e-11 6.2e-11 3.4e-11 4.0e-11
10.4 4.8e-11 6.6e-11 3.8e-11 1.0e-10 5.8e-11 6.4e-11
10.6 6.6e-11 4.9e-11 5.6e-11 6.4e-11 3.6e-11 4.2e-11
10.8 5.0e-11 6.4e-11 4.0e-11 9.6e-11 6.0e-11 7.0e-11
11.0 6.8e-11 4.8e-11 5.8e-11 6.2e-11 3.4e-11 4.4e-11
11.2 4.8e-11 6.6e-11 3.8e-11 9.8e-11 5.8e-11 7.6e-11
11.4 6.6e-11 4.9e-11 5.6e-11 6.4e-11 3.6e-11 4.2e-11
11.6 5.0e-11 6.4e-11 4.0e-11 1.0e-10 6.0e-11 8.0e-11
11.8 6.8e-11 4.8e-11 5.8e-11 6.2e-11 3.4e-11 4.6e-11
12.0 4.8e-11 6.6e-11 3.8e-11 9.6e-11 5.8e-11 9.0e-11
12.2 6.6e-11 4.9e-11 5.6e-11 6.4e-11 3.6e-11 4.4e-11
12.4 5.0e-11 6.4e-11 4.0e-11 9.8e-11 6.0e-11 8.4e-11
12.6 6.8e-11 4.8e-11 5.8e-11 6.2e-11 3.4e-11 4.6e-11
12.8 4.8e-11 6.6e-11 3.8e-11 1.0e-10 5.8e-11 2.4e-10
13.0 6.6e-11 4.9e-11 5.6e-11 6.4e-11 3.6e-11 4.8e-11
13.2 5.0e-11 6.4e-11 4.0e-11 9.6e-11 6.0e-11 9.0e-11
13.4 6.8e-11 4.8e-11 5.8e-11 6.2e-11 3.4e-11 4.6e-11
13.6 4.8e-11 6.6e-11 3.8e-11 9.8e-11 5.8e-11 1.2e-10
13.8 6.6e-11 4.9e-11 5.6e-11 6.4e-11 3.6e-11 4.8e-11
14.0 5.0e-11 6.4e-11 4.0e-11 1.0e-10 6.0e-11 2.1e-10
14.2 6.8e-11 4.8e-11 5.8e-11 6.2e-11 3.4e-11 4.6e-11
14.4 4.8e-11 6.6e-11 3.8e-11 9.6e-11 5.8e-11 9.4e-11
14.6 6.6e-11 4.9e-11 5.6e-11 6.4e-11 3.6e-11 4.8e-11
14.8 5.0e-11 6.4e-11 4.0e-11 9.8e-11 6.0e-11 1.3e-10
15.0 6.8e-11 4.8e-11 5.8e-11 6.2e-11 3.4e-11 4.6e-11
15.2 4.8e-11 6.6e-11 3.8e-11 1.0e-10 5.8e-11 9.0e-11
15.4 6.6e-11 4.9e-11 5.6e-11 6.4e-11 3.6e-11 4.8e-11
15.6 5.0e-11 6.4e-11 4.0e-11 9.6e-11 6.0e-11 1.6e-10
15.8 6.8e-11 4.8e-11 5.8e-11 6.2e-11 3.4e-11 4.6e-11
16.0 4.8e-11 6.6e-11 3.8e-11 9.8e-11 5.8e-11 9.6e-11
16.2 6.6e-11 4.9e-11 5.6e-11 6.4e-11 3.6e-11 4.8e-11
16.4 5.0e-11 6.4e-11 4.0e-11 1.0e-10 1.1e-10 3.6e-10
16.6 6.8e-11 4.8e-11 5.8e-11 6.2e-11 3.4e-11 5.0e-11
16.8 4.8e-11 6.6e-11 3.8e-11 9.6e-11 5.8e-11 1.0e-10
17.0 6.6e-11 4.9e-11 5.6e-11 6.4e-11 3.6e-11 4.8e-11
17.2 5.0e-11 6.4e-11 4.0e-11 9.8e-11 1.0e-10 3.6e-10
17.4 6.8e-11 4.8e-11 5.8e-11 6.2e-11 3.4e-11 5.0e-11
17.6 4.8e-11 6.6e-11 3.8e-11 1.0e-10 5.8e-11 9.4e-11
17.8 6.6e-11 4.9e-11 5.6e-11 6.4e-11 3.6e-11 4.8e-11
18.0 5.0e-11 6.4e-11 4.0e-11 9.6e-11 6.0e-11 2.4e-10
18.2 6.8e-11 4.8e-11 5.8e-11 6.2e-11 3.4e-11 4.6e-11
18.4 4.8e-11 6.6e-11 3.8e-11 9.8e-11 5.8e-11 9.0e-11
18.6 6.6e-11 4.9e-11 5.6e-11 6.4e-11 3.6e-11 4.8e-11
18.8 5.0e-11 6.4e-11 4.0e-11 1.0e-10 6.0e-11 1.4e-10
19.0 6.8e-11 4.8e-11 5.8e-11 6.2e-11 3.4e-11 4.6e-11
19.2 4.8e-11 6.6e-11 3.8e-11 9.6e-11 5.8e-11 2.4e-10
19.4 6.6e-11 4.9e-11 5.8e-11 6.4e-11 3.6e-11 4.6e-11
19.6 5.0e-11 6.4e-11 4.2e-11 9.8e-11 6.0e-11 8.4e-11
19.8 6.8e-11 4.8e-11 6.0e-11 6.2e-11 3.4e-11 4.4e-11
20.0 4.8e-11 6.6e-11 4.2e-11 1.0e-10 5.8e-11 7.0e-11
20.5 6.8e-11 4.8e-11 6.0e-11 6.2e-11 3.4e-11 4.0e-11
21.0 4.8e-11 6.6e-11 4.2e-11 1.0e-10 5.8e-11 2.0e-10
21.5 6.6e-11 4.9e-11 6.0e-11 6.4e-11 3.6e-11 4.2e-11
22.0 5.0e-11 6.4e-11 4.4e-11 9.8e-11 6.0e-11 7.0e-11
22.5 6.8e-11 4.8e-11 6.2e-11 6.2e-11 3.4e-11 4.0e-11
23.0 4.8e-11 6.6e-11 4.2e-11 1.0e-10 2.4e-10 1.9e-10
23.5 6.6e-11 4.9e-11 6.0e-11 6.4e-11 3.6e-11 4.2e-11
24.0 5.0e-11 6.4e-11 4.4e-11 9.8e-11 6.0e-11 7.2e-11
24.5 6.8e-11 4.8e-11 6.2e-11 6.2e-11 3.4e-11 4.0e-11
25.0 4.8e-11 6.6e-11 4.2e-11 1.0e-10 5.8e-11 1.9e-10
25.5 6.6e-11 4.9e-11 6.0e-11 6.4e-11 3.6e-11 4.2e-11
26.0 5.0e-11 6.4e-11 4.4e-11 9.8e-11 6.0e-11 7.0e-11
26.5 6.8e-11 4.8e-11 6.2e-11 6.2e-11 3.4e-11 4.0e-11
27.0 4.8e-11 6.6e-11 4.2e-11 1.0e-10 4.2e-10 1.4e-10
27.5 6.6e-11 4.9e-11 6.0e-11 6.4e-11 3.6e-11 4.2e-11
28.0 5.0e-11 6.4e-11 4.4e-11 9.8e-11 6.0e-11 7.2e-11
28.5 6.8e-11 4.8e-11 6.2e-11 6.2e-11 3.4e-11 4.0e-11
29.0 4.8e-11 6.6e-11 4.2e-11 1.0e-10 5.8e-11 1.2e-10
29.5 6.6e-11 4.9e-11 6.0e-11 6.4e-11 3.6e-11 4.2e-11
30.0 5.0e-11 6.4e-11 4.4e-11 9.8e-11 3.6e-10 2.0e-10
30.5 6.8e-11 4.8e-11 6.2e-11 6.2e-11 3.4e-11 3.8e-11
31.0 4.8e-11 6.6e-11 4.2e-11 1.0e-10 5.8e-11 6.2e-11
31.5 6.6e-11 4.9e-11 6.0e-11 6.4e-11 3.6e-11 3.6e-11
32.0 5.0e-11 6.4e-11 4.4e-11 1.02e-10 6.0e-11 6.4e-11
32.5 6.8e-11 4.8e-11 6.2e-11 6.2e-11 3.2e-11 3.4e-11
33.0 4.8e-11 6.6e-11 4.2e-11 1.0e-10 5.8e-11 6.2e-11
33.5 6.6e-11 4.9e-11 6.0e-11 6.4e-11 3.4e-11 3.6e-11
34.0 5.0e-11 6.4e-11 4.4e-11 1.02e-10 6.0e-11 6.0e-11
34.5 6.8e-11 4.8e-11 6.2e-11 6.2e-11 3.2e-11 3.4e-11
35.0 4.8e-11 6.6e-11 4.2e-11 1.0e-10 5.8e-11 6.4e-11
35.5 6.6e-11 4.9e-11 6.0e-11 6.4e-11 3.4e-11 3.6e-11
36.0 5.0e-11 6.4e-11 4.4e-11 1.02e-10 6.0e-11 6.2e-11
36.5 6.8e-11 4.8e-11 6.2e-11 6.2e-11 3.2e-11 3.4e-11
37.0 4.8e-11 6.6e-11 4.2e-11 1.0e-10 5.8e-11 6.0e-11
37.5 6.6e-11 4.9e-11 6.0e-11 6.4e-11 3.4e-11 3.6e-11
38.0 5.0e-11 6.4e-11 4.4e-11 1.02e-10 6.0e-11 6.4e-11
38.5 6.8e-11 4.8e-11 6.2e-11 6.2e-11 3.2e-11 3.4e-11
39.0 4.8e-11 6.6e-11 4.2e-11 1.0e-10 5.8e-11 6.2e-11
39.5 6.6e-11 4.9e-11 6.0e-11 6.4e-11 3.4e-11 3.6e-11
40.0 5.0e-11 6.4e-11 4.4e-11 1.02e-10 6.0e-11 6.0e-11
40.5 6.8e-11 4.8e-11 6.2e-11 6.2e-11 2.8e-11 3.4e-11
41.0 4.8e-11 6.6e-11 4.2e-11 1.0e-10 5.8e-11 6.4e-11
41.5 6.6e-11 4.9e-11 6.0e-11 6.4e-11 3.4e-11 3.6e-11
42.0 5.0e-11 6.4e-11 4.4e-11 1.02e-10 6.0e-11 6.2e-11
42.5 6.8e-11 4.8e-11 6.2e-11 6.2e-11 3.2e-11 3.0e-11
43.0 4.8e-11 6.6e-11 4.2e-11 1.0e-10 5.8e-11 6.0e-11
43.5 6.6e-11 4.9e-11 6.0e-11 6.4e-11 3.4e-11 3.6e-11
44.0 5.0e-11 6.4e-11 4.4e-11 1.02e-10 6.0e-11 6.4e-11
44.5 6.8e-11 4.8e-11 6.2e-11 6.2e-11 3.2e-11 3.4e-11
45.0 4.8e-11 6.6e-11 4.2e-11 1.0e-10 5.8e-11 6.2e-11
45.5 6.6e-11 4.9e-11 6.0e-11 6.4e-11 3.4e-11 3.6e-11
46.0 5.0e-11 6.4e-11 4.4e-11 1.02e-10 6.0e-11 6.0e-11
46.5 6.8e-11 4.8e-11 6.2e-11 6.2e-11 3.2e-11 3.4e-11
47.0 4.8e-11 6.6e-11 4.2e-11 1.0e-10 5.8e-11 6.4e-11
47.5 6.6e-11 4.9e-11 6.0e-11 6.4e-11 3.4e-11 3.6e-11
48.0 5.0e-11 6.4e-11 4.4e-11 1.02e-10 6.0e-11 6.2e-11
48.5 6.8e-11 4.8e-11 6.2e-11 6.2e-11 3.2e-11 3.4e-11
49.0 4.8e-11 6.6e-11 4.2e-11 1.0e-10 5.8e-11 6.0e-11
49.5 6.6e-11 4.9e-11 6.0e-11 6.4e-11 3.4e-11 3.6e-11
50.0 5.0e-11 6.4e-11 4.4e-11 1.02e-10 6.0e-11 6.4e-11
51 6.8e-11 4.8e-11 6.2e-11 6.2e-11 3.2e-11 3.4e-11
52 4.8e-11 6.6e-11 4.2e-11 1.0e-10 5.8e-11 6.2e-11
53 6.6e-11 4.9e-11 6.0e-11 6.4e-11 3.4e-11 3.6e-11
54 5.0e-11 6.4e-11 4.4e-11 1.02e-10 6.0e-11 6.0e-11
55 6.8e-11 4.8e-11 6.2e-11 6.2e-11 3.2e-11 3.4e-11
56 4.8e-11 6.6e-11 4.2e-11 1.0e-10 5.8e-11 6.4e-11
57 6.6e-11 4.9e-11 6.0e-11 6.4e-11 3.4e-11 3.6e-11
58 5.0e-11 6.4e-11 4.4e-11 1.02e-10 6.0e-11 6.2e-11
59 6.8e-11 4.8e-11 6.2e-11 6.2e-11 3.2e-11 3.4e-11
60 4.8e-11 6.6e-11 4.2e-11 1.0e-10 3.3e-10 6.0e-11
61 6.6e-11 4.9e-11 6.0e-11 6.4e-11 3.4e-11 3.6e-11
62 5.0e-11 6.4e-11 4.4e-11 1.02e-10 6.0e-11 6.4e-11
63 6.8e-11 4.8e-11 6.2e-11 6.2e-11 3.2e-11 3.4e-11
64 4.8e-11 6.6e-11 4.2e-11 1.0e-10 5.8e-11 6.2e-11
65 6.6e-11 4.9e-11 6.0e-11 6.4e-11 3.4e-11 3.6e-11
66 5.0e-11 6.4e-11 4.4e-11 1.02e-10 6.0e-11 6.0e-11
67 6.8e-11 4.8e-11 6.2e-11 6.2e-11 3.2e-11 3.4e-11
68 4.8e-11 6.6e-11 4.2e-11 1.0e-10 5.8e-11 6.4e-11
69 6.6e-11 4.9e-11 6.0e-11 6.4e-11 3.4e-11 3.6e-11
70 5.0e-11 6.4e-11 4.4e-11 1.02e-10 6.0e-11 6.2e-11
71 6.8e-11 4.8e-11 6.2e-11 6.2e-11 3.2e-11 3.4e-11
72 4.8e-11 6.6e-11 4.2e-11 1.0e-10 5.8e-11 6.0e-11
73 6.6e-11 4.9e-11 6.0e-11 6.4e-11 3.6e-11 3.6e-11
74 5.0e-11 6.4e-11 4.4e-11 1.02e-10 6.0e-11 6.4e-11
75 6.8e-11 4.8e-11 6.2e-11 6.2e-11 4.5e-11 3.8e-11
76 4.8e-11 6.6e-11 4.2e-11 1.0e-10 9.0e-11 6.4e-11
77 6.6e-11 4.9e-11 6.0e-11 6.4e-11 6.5e-11 4.0e-11
78 5.0e-11 6.4e-11 4.4e-11 1.02e-10 1.1e-10 6.8e-11
79 6.8e-11 4.8e-11 6.2e-11 6.2e-11 8.0e-11 4.4e-11
80 4.8e-11 6.6e-11 4.4e-11 1.0e-10 1.3e-10 7.4e-11
81 6.6e-11 4.9e-11 6.2e-11 6.4e-11 9.0e-11 4.8e-11
82 5.0e-11 6.4e-11 4.6e-11 1.02e-10 1.5e-10 8.0e-11
83 6.8e-11 4.8e-11 6.4e-11 6.2e-11 1.1e-10 5.4e-11
84 4.8e-11 6.6e-11 4.8e-11 1.0e-10 1.8e-10 9.0e-11
85 6.6e-11 4.9e-11 6.6e-11 6.4e-11 1.3e-10 6.0e-11
86 5.0e-11 6.4e-11 5.0e-11 1.02e-10 2.0e-10 9.4e-11
87 6.8e-11 4.8e-11 7.0e-11 6.2e-11 1.5e-10 6.4e-11
88 4.8e-11 6.6e-11 5.0e-11 1.0e-10 2.2e-10 1.0e-10
89 6.6e-11 4.9e-11 6.6e-11 6.4e-11 1.3e-10 6.0e-11
90 5.0e-11 6.4e-11 4.8e-11 1.02e-10 1.6e-10 9.0e-11
91 6.8e-11 4.8e-11 6.4e-11 6.2e-11 9.0e-11 5.0e-11
92 4.8e-11 6.6e-11 4.4e-11 1.0e-10 1.2e-10 8.0e-11
93 6.6e-11 4.9e-11 6.2e-11 6.4e-11 6.0e-11 4.2e-11
94 5.0e-11 6.4e-11 4.4e-11 1.02e-10 8.0e-11 6.6e-11
95 6.8e-11 4.8e-11 6.2e-11 6.2e-11 4.0e-11 3.6e-11
96 4.8e-11 6.6e-11 4.2e-11 1.0e-10 6.0e-11 6.2e-11
97 6.6e-11 4.9e-11 6.0e-11 6.4e-11 3.4e-11 3.6e-11
98 5.0e-11 6.4e-11 4.4e-11 1.02e-10 5.8e-11 6.0e-11
99 6.8e-11 4.8e-11 6.2e-11 6.2e-11 3.2e-11 3.4e-11
100 4.8e-11 6.6e-11 4.2e-11 1.0e-10 5.6e-11 6.0e-11
102 6.4e-11 4.4e-11 6.0e-11 6.2e-11 2.6e-11 2.8e-11
104 4.4e-11 6.2e-11 4.2e-11 1.02e-10 5.2e-11 5.4e-11
106 6.2e-11 4.6e-11 5.8e-11 6.4e-11 2.5e-11 2.7e-11
108 4.6e-11 6.0e-11 4.4e-11 1.0e-10 5.0e-11 5.2e-11
110 6.4e-11 4.4e-11 6.0e-11 6.2e-11 2.7e-11 2.9e-11
112 4.4e-11 6.2e-11 4.2e-11 1.02e-10 5.2e-11 5.4e-11
114 6.2e-11 4.6e-11 5.8e-11 6.4e-11 2.5e-11 2.7e-11
116 4.6e-11 6.0e-11 4.4e-11 1.0e-10 5.0e-11 5.2e-11
118 6.4e-11 4.4e-11 6.0e-11 6.2e-11 2.6e-11 2.8e-11
120 4.4e-11 6.2e-11 4.2e-11 1.02e-10 5.2e-11 5.4e-11
122 6.2e-11 4.6e-11 5.8e-11 6.4e-11 2.4e-11 2.6e-11
124 4.6e-11 6.0e-11 4.4e-11 1.0e-10 5.0e-11 5.2e-11
126 6.4e-11 4.4e-11 6.0e-11 6.2e-11 2.7e-11 2.9e-11
128 4.4e-11 6.2e-11 4.2e-11 1.02e-10 5.2e-11 5.4e-11
130 6.2e-11 4.6e-11 5.8e-11 6.4e-11 2.5e-11 2.7e-11
132 4.6e-11 6.0e-11 4.4e-11 1.0e-10 5.0e-11 5.2e-11
134 6.4e-11 4.4e-11 6.0e-11 6.2e-11 2.6e-11 2.8e-11
136 4.4e-11 6.2e-11 4.2e-11 1.02e-10 5.2e-11 5.4e-11
138 6.2e-11 4.6e-11 5.8e-11 6.4e-11 2.4e-11 2.6e-11
140 4.6e-11 6.0e-11 4.4e-11 1.0e-10 5.0e-11 5.2e-11
142 6.4e-11 4.4e-11 6.0e-11 6.2e-11 2.7e-11 2.9e-11
144 4.4e-11 6.2e-11 4.2e-11 1.02e-10 5.2e-11 5.4e-11
146 6.2e-11 4.6e-11 5.8e-11 6.4e-11 2.5e-11 2.7e-11
148 4.6e-11 6.0e-11 4.4e-11 1.0e-10 5.0e-11 5.2e-11
150 6.4e-11 4.4e-11 6.0e-11 6.2e-11 2.6e-11 2.8e-11
152 4.4e-11 6.2e-11 4.2e-11 1.02e-10 5.2e-11 5.4e-11
154 6.2e-11 4.6e-11 5.8e-11 6.4e-11 2.4e-11 2.6e-11
156 4.6e-11 6.0e-11 4.4e-11 1.0e-10 5.0e-11 5.2e-11
158 6.4e-11 4.4e-11 6.0e-11 6.2e-11 2.7e-11 2.9e-11
160 4.4e-11 6.2e-11 4.2e-11 1.02e-10 5.2e-11 5.4e-11
162 6.2e-11 4.6e-11 5.8e-11 6.4e-11 2.5e-11 2.7e-11
164 4.6e-11 6.0e-11 4.4e-11 1.0e-10 5.0e-11 5.2e-11
166 6.4e-11 4.4e-11 6.0e-11 6.2e-11 2.6e-11 2.8e-11
168 4.4e-11 6.2e-11 4.2e-11 1.02e-10 5.2e-11 5.4e-11
170 6.2e-11 4.6e-11 5.8e-11 6.4e-11 2.4e-11 2.6e-11
172 4.6e-11 6.0e-11 4.4e-11 1.0e-10 5.0e-11 5.2e-11
174 6.4e-11 4.4e-11 6.0e-11 6.2e-11 2.7e-11 2.9e-11
176 4.4e-11 6.2e-11 4.2e-11 1.02e-10 5.2e-11 5.4e-11
178 6.2e-11 4.6e-11 5.8e-11 6.4e-11 2.5e-11 2.7e-11
180 4.6e-11 6.0e-11 4.4e-11 1.2e-10 7.0e-10 3.0e-10
182 6.4e-11 4.4e-11 6.0e-11 6.2e-11 2.6e-11 2.8e-11
184 4.4e-11 6.2e-11 4.2e-11 1.02e-10 5.2e-11 5.4e-11
186 6.2e-11 4.6e-11 5.8e-11 6.4e-11 2.4e-11 2.6e-11
188 4.6e-11 6.0e-11 4.4e-11 1.0e-10 5.0e-11 5.2e-11
190 6.4e-11 4.4e-11 6.0e-11 6.2e-11 2.7e-11 2.9e-11
192 4.4e-11 6.2e-11 4.2e-11 1.02e-10 5.2e-11 5.4e-11
194 6.2e-11 4.6e-11 5.8e-11 6.4e-11 2.5e-11 2.7e-11
196 4.6e-11 6.0e-11 4.4e-11 1.0e-10 5.0e-11 5.2e-11
198 6.4e-11 4.4e-11 6.0e-11 6.2e-11 2.6e-11 2.8e-11
200 4.4e-11 6.2e-11 4.2e-11 1.02e-10 4.8e-11 5.0e-11
}\stB

\pgfplotsset{
  grid=both,
  major grid style={line width=0.42pt, color=black!26},
  minor grid style={line width=0.42pt, color=black!26},
  axis line style={line width=0.4pt, black},
  tick style={line width=0.3pt, black},
  tick align=outside, xtick pos=left, ytick pos=left,
  major tick length=0.55mm, minor tick length=0.32mm,
  ticklabel style={font=\fontsize{3.4}{4}\selectfont},
  legend style={at={(rel axis cs:1,1)}, anchor=north east, xshift=-1.4mm, yshift=-1.4mm,
    draw=black!20, fill=white, fill opacity=0.8, draw opacity=1, text opacity=1,
    rounded corners=0.8mm, inner xsep=0.9mm, inner ysep=1.1mm,
    font=\fontsize{7.7}{9}\selectfont, row sep=1.7mm, /tikz/column sep=2.2mm,
    nodes={inner sep=0pt, text height=2.0mm, text depth=0.6mm}},
  legend cell align=left,
  legend image code/.code={\draw[#1, line width=1.2pt] (0mm,0.95mm) -- (6mm,0.95mm);},
}

\begin{document}
\begin{tikzpicture}[x=1mm,y=1mm]
\path[use as bounding box] (0,0) rectangle (240,160);
\node[anchor=base, font=\fontsize{10.2}{12}\selectfont, inner sep=0pt] at (119.4,154.07) {CPS Spectra};
\node[anchor=base, font=\fontsize{10.2}{12}\selectfont, inner sep=0pt] at (120.5,150.07) {1241082000 to 1241082600};

\begin{axis}[xmode=log, ymode=log, scale only axis, width=186mm, height=56mm,
  at={(30mm,84.77mm)}, anchor=south west,
  xmin=0.01, xmax=200, ymin=2e-11, ymax=7.2e-8, no markers,
  every axis plot/.append style={line width=1.2pt, line join=round},
  xtick={0.01,0.1,1,10,100},
  xticklabels={10\textsuperscript{−2},10\textsuperscript{−1},10\textsuperscript{0},10\textsuperscript{1},10\textsuperscript{2}},
  minor xtick={0.02,0.03,0.04,0.05,0.06,0.07,0.08,0.09,0.2,0.3,0.4,0.5,0.6,0.7,0.8,0.9,2,3,4,5,6,7,8,9,20,30,40,50,60,70,80,90,200},
  ytick={1e-10,1e-9,1e-8},
  yticklabels={10\textsuperscript{−10},10\textsuperscript{−9},10\textsuperscript{−8}},
  minor ytick={3e-11,4e-11,5e-11,6e-11,7e-11,8e-11,9e-11,2e-10,3e-10,4e-10,5e-10,6e-10,7e-10,8e-10,9e-10,2e-9,3e-9,4e-9,5e-9,6e-9,7e-9,8e-9,9e-9,2e-8,3e-8,4e-8,5e-8,6e-8,7e-8}]
\addplot[c0] table[x=f,y=a]{\stA}; \addlegendentry{BS\_ST1\_CPSINF\_H1\_I}
\addplot[c1] table[x=f,y=b]{\stA}; \addlegendentry{BS\_ST1\_CPSINF\_H2\_I}
\addplot[c2] table[x=f,y=c]{\stA}; \addlegendentry{BS\_ST1\_CPSINF\_H3\_I}
\addplot[c3] table[x=f,y=d]{\stA}; \addlegendentry{BS\_ST1\_CPSINF\_V1\_I}
\addplot[c4] table[x=f,y=e]{\stA}; \addlegendentry{BS\_ST1\_CPSINF\_V2\_I}
\addplot[c5] table[x=f,y=g]{\stA}; \addlegendentry{BS\_ST1\_CPSINF\_V3\_I}
\addplot[c6] coordinates {(0.01,2.5e-9) (0.1,5e-10) (0.7,2e-10) (100,2e-10)}; \addlegendentry{ADE 1mm noise}
\end{axis}

\begin{axis}[xmode=log, ymode=log, scale only axis, width=186mm, height=55.94mm,
  at={(30mm,17.6mm)}, anchor=south west,
  xmin=0.01, xmax=200, ymin=6.2e-12, ymax=2.8e-8, no markers,
  every axis plot/.append style={line width=1.2pt, line join=round},
  xtick={0.01,0.1,1,10,100},
  xticklabels={10\textsuperscript{−2},10\textsuperscript{−1},10\textsuperscript{0},10\textsuperscript{1},10\textsuperscript{2}},
  minor xtick={0.02,0.03,0.04,0.05,0.06,0.07,0.08,0.09,0.2,0.3,0.4,0.5,0.6,0.7,0.8,0.9,2,3,4,5,6,7,8,9,20,30,40,50,60,70,80,90,200},
  ytick={1e-11,1e-10,1e-9,1e-8},
  yticklabels={10\textsuperscript{−11},10\textsuperscript{−10},10\textsuperscript{−9},10\textsuperscript{−8}},
  minor ytick={7e-12,8e-12,9e-12,2e-11,3e-11,4e-11,5e-11,6e-11,7e-11,8e-11,9e-11,2e-10,3e-10,4e-10,5e-10,6e-10,7e-10,8e-10,9e-10,2e-9,3e-9,4e-9,5e-9,6e-9,7e-9,8e-9,9e-9,2e-8}]
\addplot[c0] table[x=f,y=a]{\stB}; \addlegendentry{BS\_ST2\_CPSINF\_H1\_I}
\addplot[c1] table[x=f,y=b]{\stB}; \addlegendentry{BS\_ST2\_CPSINF\_H2\_I}
\addplot[c2] table[x=f,y=c]{\stB}; \addlegendentry{BS\_ST2\_CPSINF\_H3\_I}
\addplot[c3] table[x=f,y=d]{\stB}; \addlegendentry{BS\_ST2\_CPSINF\_V1\_I}
\addplot[c4] table[x=f,y=e]{\stB}; \addlegendentry{BS\_ST2\_CPSINF\_V2\_I}
\addplot[c5] table[x=f,y=g]{\stB}; \addlegendentry{BS\_ST2\_CPSINF\_V3\_I}
\addplot[c6] coordinates {(0.01,7.5e-10) (0.1,1.5e-10) (0.7,6e-11) (100,6e-11)}; \addlegendentry{ADE .25mm noise}
\end{axis}

\node[anchor=base, font=\fontsize{7.7}{9}\selectfont, inner sep=0pt] at (123,141.67) {BS\_ST1};
\node[anchor=base, font=\fontsize{7.7}{9}\selectfont, inner sep=0pt] at (123,74.47) {BS\_ST2};
\node[anchor=base, font=\fontsize{7}{8.4}\selectfont, inner sep=0pt] at (123,79.5) {Freq (hz)};
\node[anchor=base, font=\fontsize{7}{8.4}\selectfont, inner sep=0pt] at (123,12.33) {Freq (hz)};
\node[anchor=base, rotate=90, font=\fontsize{7}{8.4}\selectfont, inner sep=0pt] at (24.2,112.75) {m/rthz};
\node[anchor=base, rotate=90, font=\fontsize{7}{8.4}\selectfont, inner sep=0pt] at (24.2,45.57) {m/rthz};
\node[anchor=center, rotate=90, font=\fontsize{4.7}{5.6}\selectfont, inner sep=0pt] at (228.8,72.0) {/opt/rtcds/userapps/trunk/sys/h1/scripts/BSC\_cps\_spectra.py};
\end{tikzpicture}
\end{document}
